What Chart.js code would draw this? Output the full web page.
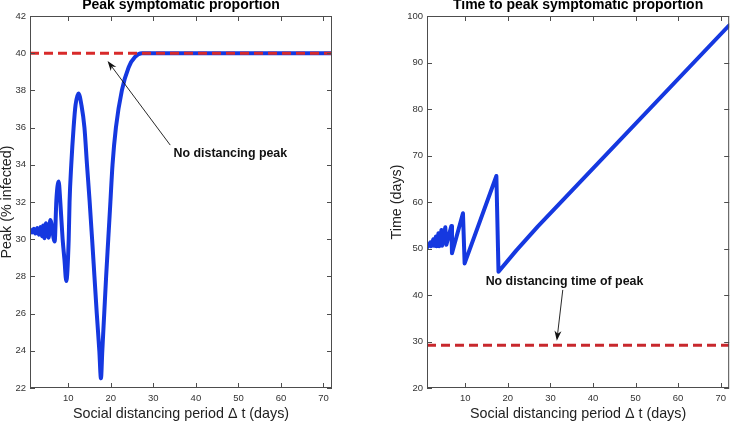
<!DOCTYPE html>
<html>
<head>
<meta charset="utf-8">
<script src="https://cdn.jsdelivr.net/npm/chart.js@4/dist/chart.umd.min.js"></script>
<style>
html, body { margin: 0; padding: 0; background: #fff; overflow: hidden }
#left { position: absolute; left: 0; top: 0 }
#right { position: absolute; left: 365px; top: 0 }
</style>
</head>
<body>
<canvas id="left" width="365" height="422"></canvas>
<canvas id="right" width="366" height="422"></canvas>
<script>
// distancing period (days) vs. peak symptomatic proportion (%)
const peakDays = [1.0, 1.5, 1.9, 2.3, 2.7, 3.1, 3.45, 3.8, 4.1, 4.4, 4.75, 5.4, 5.77, 6.8, 7.2, 7.73, 8.1, 8.67, 9.1, 9.53,
  10.1, 10.3, 10.7, 11.25, 11.7, 12.4, 13.1, 13.8, 14.4, 15.0, 15.6, 16.15, 16.7, 17.3, 17.68, 18.0, 18.45, 18.9, 19.4,
  19.9, 20.4, 21.2, 22.6, 24.2, 25.7, 27.3, 30, 72]
const peakVals = [30.53, 30.36, 30.56, 30.30, 30.60, 30.24, 30.66, 30.16, 30.74, 30.05, 30.86, 30.08, 31.03, 29.87, 32.1, 33.1, 32.1, 30.0, 28.9, 27.75,
  30.0, 32.0, 34.0, 36.0, 37.2, 37.84, 37.2, 36.0, 34.0, 32.1, 30.0, 28.0, 26.0, 24.0, 22.52, 24.0, 26.0, 28.0, 30.0,
  32.0, 34.0, 36.0, 38.0, 39.25, 39.8, 40.0, 40.0, 40.0]
const noDistPeak = 40

// distancing period (days) vs. time to peak (days)
const timeDays = [1.0, 1.8, 1.9, 2.5, 2.6, 3.1, 3.2, 3.7, 3.85, 4.4, 4.55, 5.3, 5.55, 6.72, 6.87, 9.45, 9.84, 17.3, 17.8, 22.0, 27.0, 72]
const timeVals = [50.2, 51.3, 50.5, 52.0, 50.6, 52.6, 50.5, 53.3, 50.5, 54.0, 50.6, 54.57, 50.8, 54.85, 48.98, 57.57, 46.8, 65.6, 45.0, 49.6, 54.7, 98.0]
const noDistTime = 29.2

const xRange = [1, 72]
const xTicks = [10, 20, 30, 40, 50, 60, 70]
const peakTicks = [22, 24, 26, 28, 30, 32, 34, 36, 38, 40, 42]
const timeTicks = [20, 30, 40, 50, 60, 70, 80, 90, 100]

const BLUE = '#1538e0'
const RED = '#d82a2a'
const FONT = '"Liberation Sans", Arial, Helvetica, sans-serif'

const pts = (xs, ys) => xs.map((x, i) => ({x, y: ys[i]}))

// matlab-ish box with inward ticks, plus the text + arrow annotation
const boxTicks = {
  id: 'boxTicks',
  afterDatasetsDraw(chart, args, opts){
    const {ctx, chartArea: a, scales: {x, y}} = chart
    ctx.save()
    ctx.strokeStyle = '#4d4d4d'; ctx.lineWidth = 1
    ctx.strokeRect(a.left + .5, a.top + .5, a.right - a.left - 1, a.bottom - a.top - 1)
    ctx.beginPath()
    x.ticks.forEach(t => {
      const px = Math.round(x.getPixelForValue(t.value)) + .5
      ctx.moveTo(px, a.bottom); ctx.lineTo(px, a.bottom - 5)
      ctx.moveTo(px, a.top); ctx.lineTo(px, a.top + 5)
    })
    y.ticks.forEach(t => {
      const py = Math.round(y.getPixelForValue(t.value)) + .5
      ctx.moveTo(a.left, py); ctx.lineTo(a.left + 5, py)
      ctx.moveTo(a.right, py); ctx.lineTo(a.right - 5, py)
    })
    ctx.stroke()

    const n = opts.note
    if(n){
      const x0 = x.getPixelForValue(n.from[0]), y0 = y.getPixelForValue(n.from[1])
      const x1 = x.getPixelForValue(n.to[0]), y1 = y.getPixelForValue(n.to[1])
      const ang = Math.atan2(y1 - y0, x1 - x0)
      ctx.strokeStyle = '#111'; ctx.fillStyle = '#111'; ctx.lineWidth = 0.9
      ctx.beginPath(); ctx.moveTo(x0, y0)
      ctx.lineTo(x1 - 6 * Math.cos(ang), y1 - 6 * Math.sin(ang)); ctx.stroke()
      ctx.beginPath(); ctx.moveTo(x1, y1)
      ctx.lineTo(x1 - 10 * Math.cos(ang) + 3.5 * Math.sin(ang), y1 - 10 * Math.sin(ang) - 3.5 * Math.cos(ang))
      ctx.lineTo(x1 - 7 * Math.cos(ang), y1 - 7 * Math.sin(ang))
      ctx.lineTo(x1 - 10 * Math.cos(ang) - 3.5 * Math.sin(ang), y1 - 10 * Math.sin(ang) + 3.5 * Math.cos(ang))
      ctx.closePath(); ctx.fill()
      ctx.font = 'bold 12.4px ' + FONT
      ctx.textAlign = 'center'; ctx.textBaseline = 'middle'
      ctx.fillText(n.text, x.getPixelForValue(n.at[0]), y.getPixelForValue(n.at[1]))
    }
    ctx.restore()
  }
}

function makeChart(id, cfg){
  return new Chart(document.getElementById(id), {
    type: 'line',
    data: {datasets: cfg.datasets},
    plugins: [boxTicks],
    options: {
      responsive: false,
      animation: false,
      layout: {padding: cfg.padding},
      elements: {point: {radius: 0}},
      plugins: {
        legend: {display: false},
        tooltip: {enabled: false},
        title: {
          display: true, text: cfg.title, fullSize: false, color: '#000',
          font: {family: FONT, size: 14, weight: 'bold', lineHeight: 1},
          padding: {top: -2, bottom: 4}
        },
        boxTicks: {note: cfg.note}
      },
      scales: {
        x: {
          type: 'linear', min: xRange[0], max: xRange[1],
          afterBuildTicks: s => { s.ticks = xTicks.map(v => ({value: v})) },
          afterFit: s => { s.height = 34 },
          grid: {display: false, drawTicks: false},
          border: {display: false},
          ticks: {color: '#333', font: {family: FONT, size: 9.5}, padding: 5, maxRotation: 0},
          title: {display: true, text: 'Social distancing period Δ t (days)', color: '#222',
            font: {family: FONT, size: 14.3, lineHeight: 1.1}, padding: 0}
        },
        y: {
          type: 'linear', min: cfg.yTicks[0], max: cfg.yTicks[cfg.yTicks.length - 1],
          afterBuildTicks: s => { s.ticks = cfg.yTicks.map(v => ({value: v})) },
          afterFit: s => { s.width = cfg.yWidth },
          grid: {display: false, drawTicks: false},
          border: {display: false},
          ticks: {color: '#333', font: {family: FONT, size: 9.5}, padding: 4},
          title: {display: true, text: cfg.yTitle, color: '#222',
            font: {family: FONT, size: 14.3, lineHeight: 1}, padding: 0}
        }
      }
    }
  })
}

makeChart('left', {
  title: 'Peak symptomatic proportion',
  yTitle: 'Peak (% infected)',
  yTicks: peakTicks,
  yWidth: 30,
  padding: {left: 0, right: 33, top: 0, bottom: 0},
  note: {text: 'No distancing peak', at: [48.1, 34.58], from: [33.97, 35.06], to: [19.24, 39.58]},
  datasets: [
    {data: pts(xRange, [noDistPeak, noDistPeak]), borderColor: RED, borderWidth: 3, borderDash: [9, 5], order: 0},
    {data: pts(peakDays, peakVals), borderColor: BLUE, borderWidth: 4, borderJoinStyle: 'round', borderCapStyle: 'round',
      cubicInterpolationMode: 'monotone', order: 1}
  ]
})

makeChart('right', {
  title: 'Time to peak symptomatic proportion',
  yTitle: 'Time (days)',
  yTicks: timeTicks,
  yWidth: 37,
  padding: {left: 25, right: 1, top: 0, bottom: 0},
  note: {text: 'No distancing time of peak', at: [33.3, 42.83], from: [32.9, 41.1], to: [31.5, 30.16]},
  datasets: [
    {data: pts(xRange, [noDistTime, noDistTime]), borderColor: '#c8282d', borderWidth: 3, borderDash: [9, 5], order: 0},
    {data: pts(timeDays, timeVals), borderColor: BLUE, borderWidth: 4, borderJoinStyle: 'round', borderCapStyle: 'round',
      tension: 0, order: 1}
  ]
})
</script>
</body>
</html>
